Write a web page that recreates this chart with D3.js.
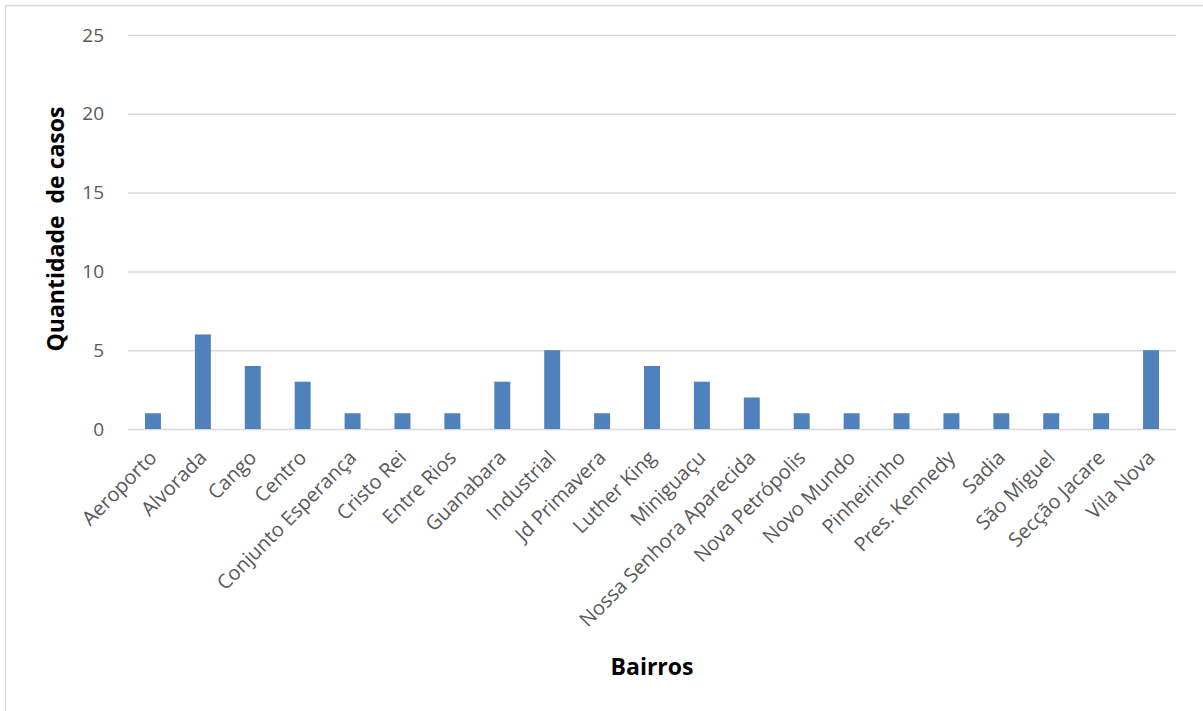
<!DOCTYPE html>
<html>
<head>
<meta charset="utf-8">
<script src="https://cdn.jsdelivr.net/npm/d3@7"></script>
<style>
  body { margin: 0; background: #fff; }
  text { font-family: 'Open Sans', 'Noto Sans', sans-serif; }
</style>
</head>
<body>
<div id="chart"></div>
<script>
var bairros = ['Aeroporto', 'Alvorada', 'Cango', 'Centro', 'Conjunto Esperança', 'Cristo Rei',
    'Entre Rios', 'Guanabara', 'Industrial', 'Jd Primavera', 'Luther King', 'Miniguaçu',
    'Nossa Senhora Aparecida', 'Nova Petrópolis', 'Novo Mundo', 'Pinheirinho', 'Pres. Kennedy',
    'Sadia', 'São Miguel', 'Secção Jacare', 'Vila Nova']
var casos = [1, 6, 4, 3, 1, 1, 1, 3, 5, 1, 4, 3, 2, 1, 1, 1, 1, 1, 1, 1, 5]
var yTicks = [0, 5, 10, 15, 20, 25]

var width = 1203
var height = 711
var plotLeft = 128, plotRight = 1176, plotTop = 35, plotBottom = 429

var svg = d3.select('#chart')
    .append('svg')
    .attr('width', width)
    .attr('height', height)

// chart frame (right/bottom edges fall outside the picture)
svg.append('rect')
    .attr('x', 5.5).attr('y', 5.5)
    .attr('width', 1300).attr('height', 800)
    .attr('fill', 'none')
    .attr('stroke', '#d9d9d9')
    .attr('stroke-width', 1.5)

var xScale = d3.scaleBand()
    .domain(bairros)
    .range([plotLeft, plotRight])
    .paddingInner(0.68)
    .paddingOuter(0.34)

var yScale = d3.scaleLinear()
    .domain([0, 25])
    .range([plotBottom, plotTop])

// gridlines + y labels
var yAxis = d3.axisLeft(yScale)
    .tickValues(yTicks)
    .tickSize(-(plotRight - plotLeft))
    .tickPadding(24)

var gy = svg.append('g')
    .attr('transform', 'translate(' + plotLeft + ',0)')
    .call(yAxis)
gy.select('.domain').remove()
gy.selectAll('line').attr('stroke', '#d9d9d9').attr('stroke-width', 1.5)
gy.selectAll('text')
    .attr('fill', '#595959')
    .attr('font-size', 19)
    .style('font-family', "'Open Sans', sans-serif")

// bars
svg.selectAll('rect.bar')
    .data(casos)
    .enter()
    .append('rect')
    .attr('class', 'bar')
    .attr('x', (d, i) => xScale(bairros[i]))
    .attr('y', (d) => yScale(d))
    .attr('width', xScale.bandwidth())
    .attr('height', (d) => plotBottom - yScale(d))
    .attr('fill', '#4f81bd')

// x labels
var xAxis = d3.axisBottom(xScale).tickSize(0).tickPadding(0)
var gx = svg.append('g')
    .attr('transform', 'translate(0,' + plotBottom + ')')
    .call(xAxis)
gx.select('.domain').remove()
gx.selectAll('text')
    .attr('fill', '#595959')
    .attr('font-size', 20)
    .style('font-family', "'Open Sans', sans-serif")
    .attr('text-anchor', 'end')
    .attr('dy', null)
    .attr('y', 0)
    .attr('transform', 'translate(5,30) rotate(-45)')

// axis titles
svg.append('text')
    .attr('transform', 'translate(64,229) rotate(-90)')
    .attr('text-anchor', 'middle')
    .attr('font-size', 23)
    .attr('font-weight', 'bold')
    .attr('fill', '#000')
    .style('white-space', 'pre')
    .text('Quantidade  de casos')

svg.append('text')
    .attr('x', 652)
    .attr('y', 675)
    .attr('text-anchor', 'middle')
    .attr('font-size', 23)
    .attr('font-weight', 'bold')
    .attr('fill', '#000')
    .text('Bairros')
</script>
</body>
</html>
